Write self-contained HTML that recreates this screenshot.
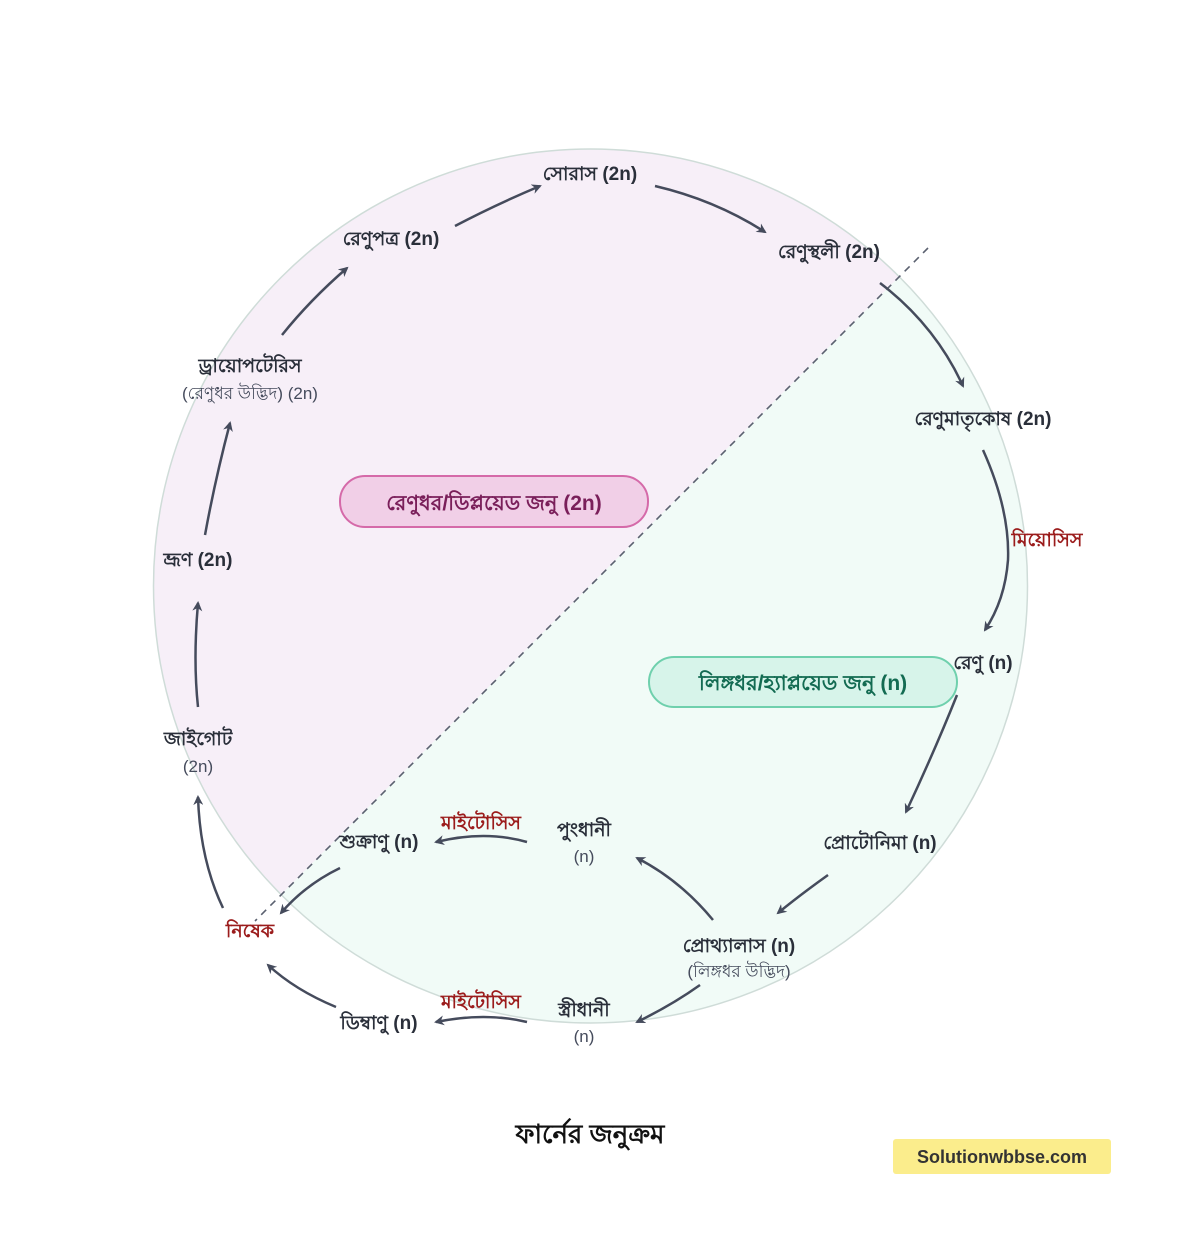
<!DOCTYPE html>
<html><head><meta charset="utf-8"><style>
html,body{margin:0;padding:0;background:#fff;width:1186px;height:1242px;overflow:hidden;}
svg{display:block;}
svg text{font-family:"Liberation Sans","Noto Sans CJK SC",sans-serif;}
</style></head><body>
<svg width="1186" height="1242" viewBox="0 0 1186 1242" xmlns="http://www.w3.org/2000/svg">
<defs>
<clipPath id="c"><circle cx="590.5" cy="586" r="437"/></clipPath>
<marker id="a" markerWidth="10" markerHeight="10" refX="8" refY="5" orient="auto" markerUnits="userSpaceOnUse"><path d="M0,0 L10,5 L0,10 L3,5 Z" fill="#454b5c"/></marker>
</defs>
<g clip-path="url(#c)">
<rect x="0" y="0" width="1186" height="1242" fill="#f1fbf7"/>
<polygon points="-200,1375 1128,48 -200,-200" fill="#f7eff8"/>
</g>
<circle cx="590.5" cy="586" r="437" fill="none" stroke="#cfdcd8" stroke-width="1.5"/>
<line x1="928" y1="248" x2="255" y2="921" stroke="#5b6170" stroke-width="1.6" stroke-dasharray="7,6"/>
<g fill="none" stroke="#454b5c" stroke-width="2.5" marker-end="url(#a)">
<path d="M455,226 Q495,205 540,186"/>
<path d="M655,186 Q715,200 765,232"/>
<path d="M880,283 Q935,325 963,386"/>
<path d="M983,450 Q1010,510 1008,560 Q1005,600 985,630"/>
<path d="M957,695 Q935,750 906,812"/>
<path d="M828,875 Q800,895 778,913"/>
<path d="M713,920 Q680,880 637,858"/>
<path d="M527,842 Q485,830 436,842"/>
<path d="M700,985 Q672,1005 637,1022"/>
<path d="M527,1022 Q485,1012 436,1022"/>
<path d="M340,868 Q305,885 281,913"/>
<path d="M336,1007 Q295,990 268,965"/>
<path d="M223,908 Q200,860 198,797"/>
<path d="M198,707 Q193,660 198,603"/>
<path d="M205,535 Q215,480 230,423"/>
<path d="M282,335 Q310,300 347,268"/>
</g>
<rect x="340" y="476" width="308" height="51" rx="25" fill="#f1cfe7" stroke="#d56aa9" stroke-width="2"/>
<text x="494" y="510" text-anchor="middle" font-size="21" font-weight="bold" fill="#7a1f5a">রেণুধর/ডিপ্লয়েড জনু (2n)</text>
<rect x="649" y="657" width="308" height="50" rx="25" fill="#d7f4ea" stroke="#6fd0ad" stroke-width="2"/>
<text x="803" y="690" text-anchor="middle" font-size="21" font-weight="bold" fill="#136b52">লিঙ্গধর/হ্যাপ্লয়েড জনু (n)</text>
<g font-size="19" font-weight="bold" fill="#2a2f3a" text-anchor="middle">
<text x="590" y="180">সোরাস (2n)</text>
<text x="391" y="245">রেণুপত্র (2n)</text>
<text x="829" y="258">রেণুস্থলী (2n)</text>
<text x="250" y="372">ড্রায়োপটেরিস</text>
<text x="983" y="425">রেণুমাতৃকোষ (2n)</text>
<text x="198" y="566">ভ্রূণ (2n)</text>
<text x="983" y="669">রেণু (n)</text>
<text x="198" y="745">জাইগোট</text>
<text x="584" y="836">পুংধানী</text>
<text x="379" y="848">শুক্রাণু (n)</text>
<text x="880" y="849">প্রোটোনিমা (n)</text>
<text x="739" y="952">প্রোথ্যালাস (n)</text>
<text x="584" y="1016">স্ত্রীধানী</text>
<text x="379" y="1029">ডিম্বাণু (n)</text>
</g>
<g font-size="17" fill="#454b5c" text-anchor="middle">
<text x="250" y="399">(রেণুধর উদ্ভিদ) (2n)</text>
<text x="198" y="772">(2n)</text>
<text x="584" y="862">(n)</text>
<text x="739" y="977">(লিঙ্গধর উদ্ভিদ)</text>
<text x="584" y="1042">(n)</text>
</g>
<g font-size="19" font-weight="bold" fill="#9b1c1c" text-anchor="middle">
<text x="1047" y="546">মিয়োসিস</text>
<text x="481" y="829">মাইটোসিস</text>
<text x="250" y="937">নিষেক</text>
<text x="481" y="1008">মাইটোসিস</text>
</g>
<text x="590" y="1143" text-anchor="middle" font-size="26" font-weight="bold" fill="#111">ফার্নের জনুক্রম</text>
<rect x="893" y="1139" width="218" height="35" rx="3" fill="#fbed8c"/>
<text x="1002" y="1163" text-anchor="middle" font-size="18" font-weight="bold" fill="#333">Solutionwbbse.com</text>
</svg>
</body></html>
